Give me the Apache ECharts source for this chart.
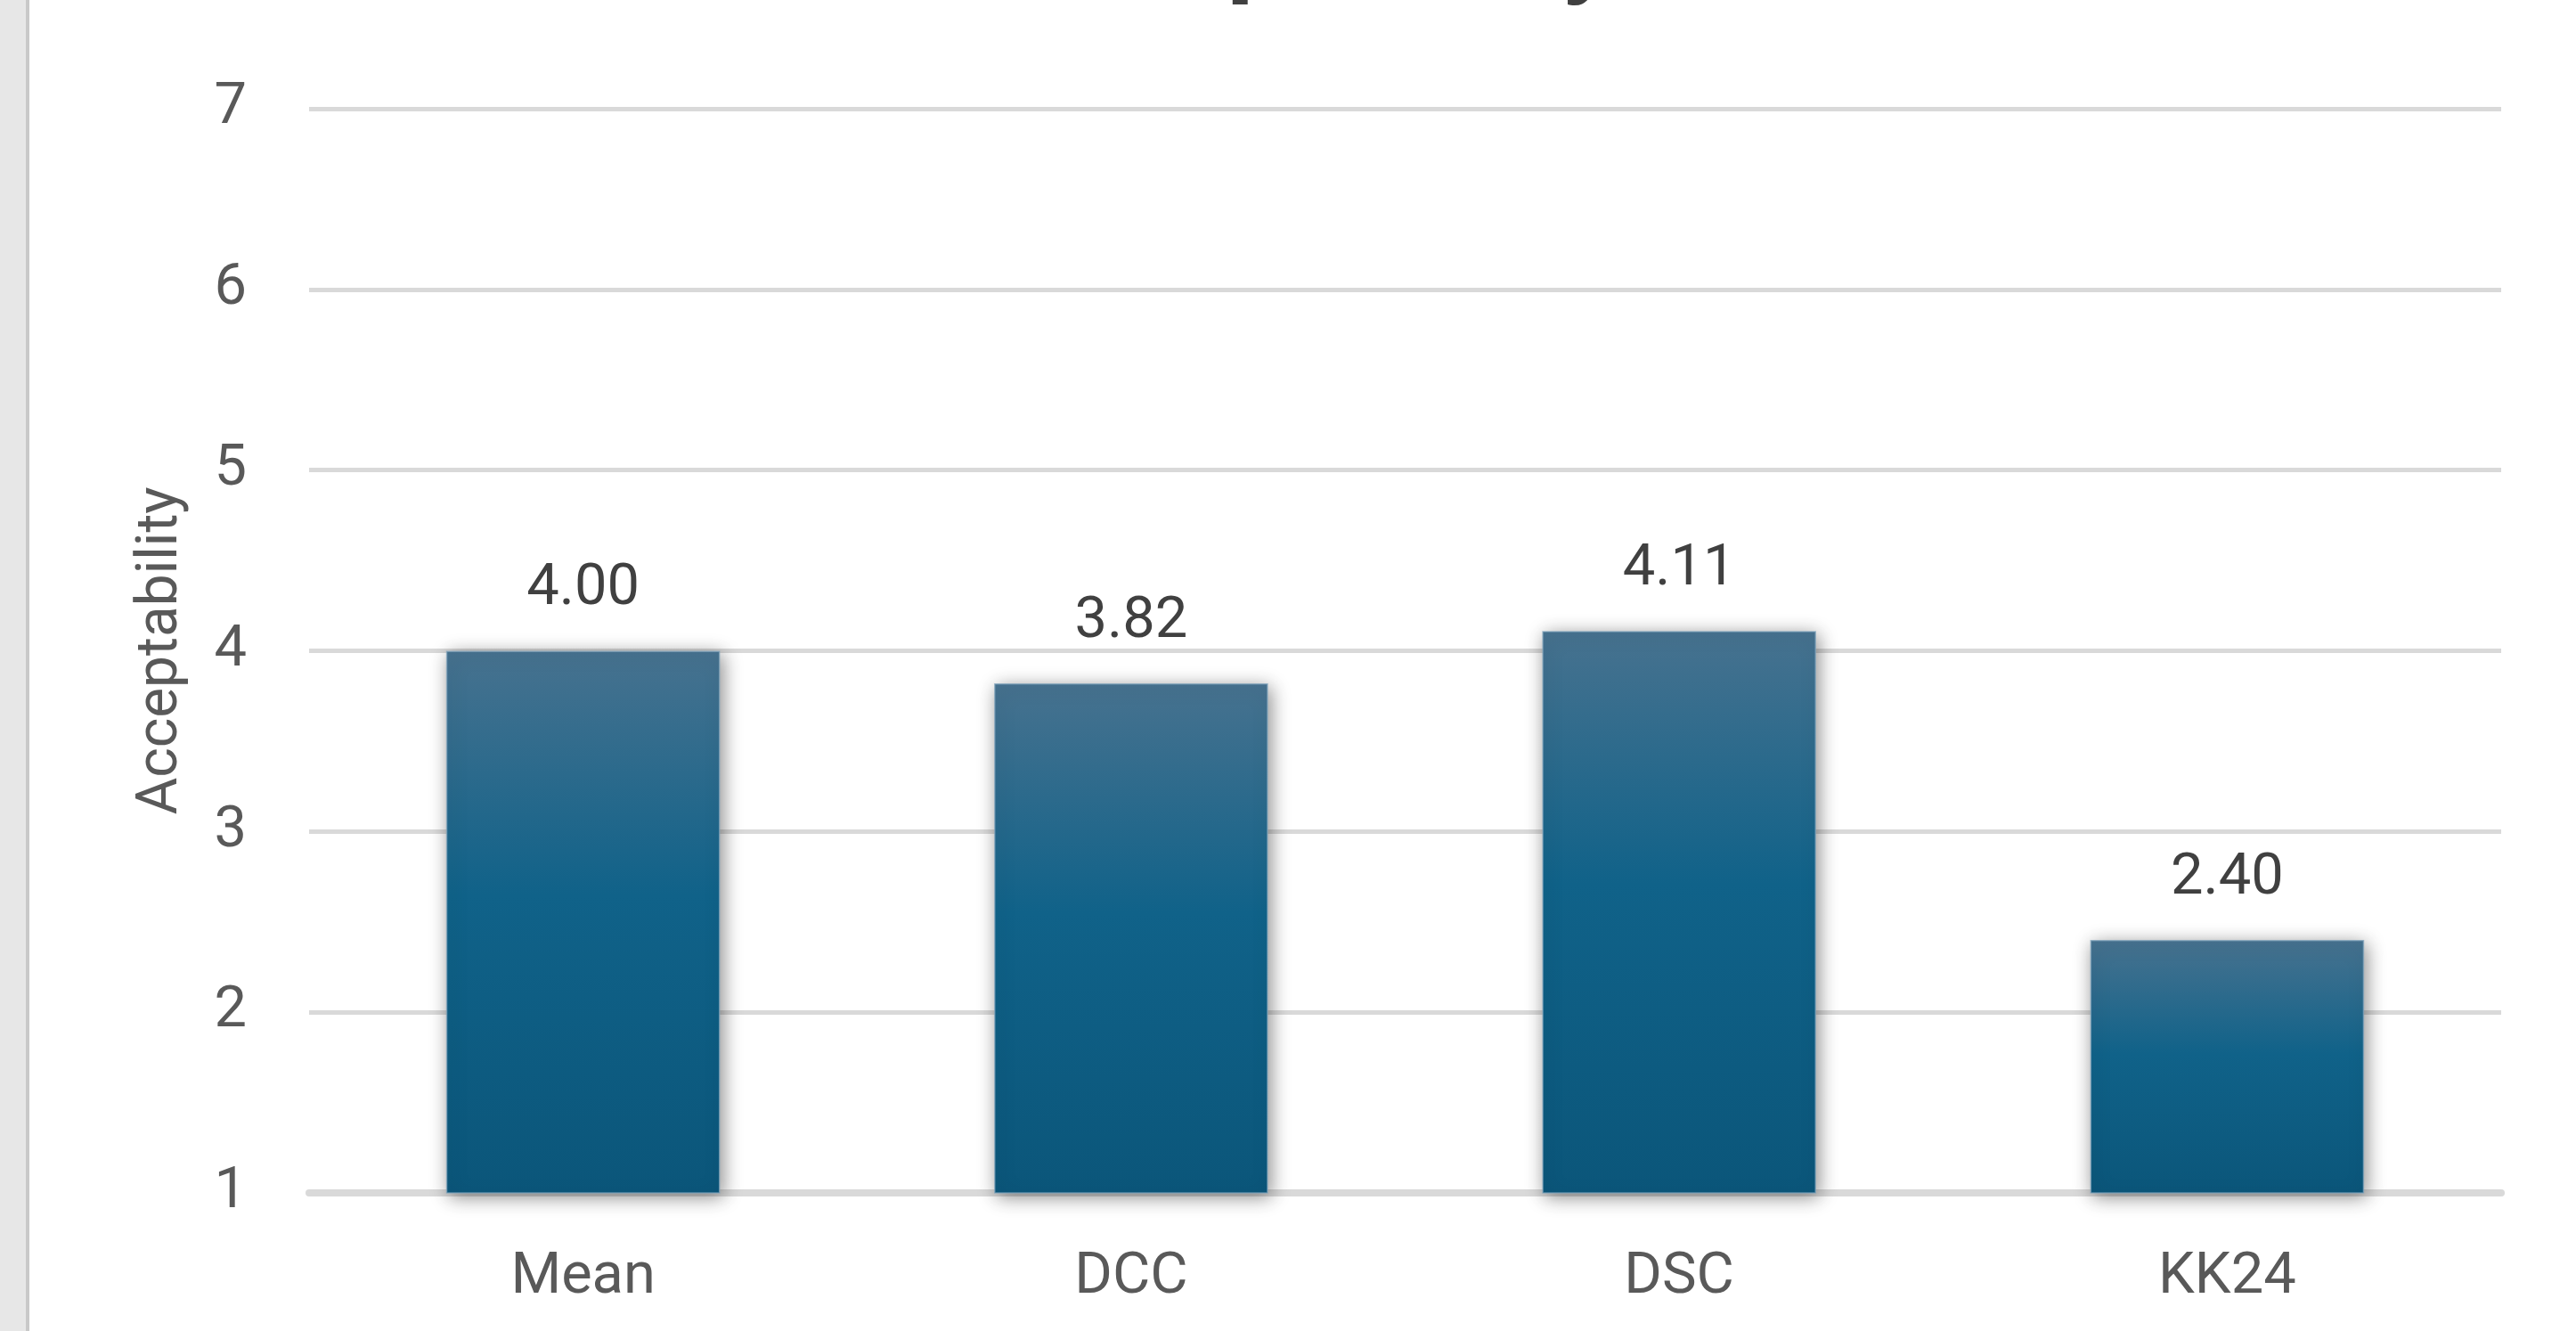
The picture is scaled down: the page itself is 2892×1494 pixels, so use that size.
<!DOCTYPE html>
<html>
<head>
<meta charset="utf-8">
<script src="https://cdn.jsdelivr.net/npm/echarts@6/dist/echarts.min.js"></script>
<style>
html,body{margin:0;padding:0;background:#fff;}
#c{width:2892px;height:1494px;}
</style>
</head>
<body>
<div id="c"></div>
<script>
const categories = ['Mean', 'DCC', 'DSC', 'KK24'];
const values = [4.00, 3.82, 4.11, 2.40];
const yTicks = { min: 1, max: 7, interval: 1 };
const titleText = 'Acceptability';
const yAxisName = 'Acceptability';

const chart = echarts.init(document.getElementById('c'));
const barGradient = new echarts.graphic.LinearGradient(0, 0, 0, 1, [
  { offset: 0, color: '#47728f' },
  { offset: 0.45, color: '#106289' },
  { offset: 1, color: '#0b567a' }
]);
chart.setOption({
  backgroundColor: '#ffffff',
  animation: false,
  graphic: [
    { type: 'rect', left: 0, top: 0, shape: { width: 29, height: 1494 }, style: { fill: '#e7e7e7' }, z: 10 },
    { type: 'rect', left: 29, top: 0, shape: { width: 4, height: 1494 }, style: { fill: '#c9c9c9' }, z: 10 },
    { type: 'text', x: 1460, y: -50, style: { text: titleText, fontFamily: 'Roboto', fontWeight: 'bold', fontSize: 120, fill: '#404040', align: 'center', verticalAlign: 'middle' }, z: 10 }
  ],
  grid: { left: 347, right: 84, top: 122, bottom: 155 },
  xAxis: {
    type: 'category',
    data: categories,
    axisTick: { show: false },
    axisLine: { show: true, lineStyle: { color: '#d9d9d9', width: 8 } },
    axisLabel: { color: '#595959', fontFamily: 'Roboto', fontSize: 65, margin: 63 }
  },
  yAxis: {
    type: 'value',
    min: yTicks.min,
    max: yTicks.max,
    interval: yTicks.interval,
    name: yAxisName,
    nameLocation: 'middle',
    nameGap: 133,
    nameTextStyle: { color: '#595959', fontFamily: 'Roboto', fontSize: 64 },
    axisLine: { show: false },
    axisTick: { show: false },
    axisLabel: { color: '#595959', fontFamily: 'Roboto', fontSize: 65, margin: 70 },
    splitLine: { lineStyle: { color: '#d9d9d9', width: 5 } }
  },
  series: [{
    type: 'bar',
    data: values,
    barWidth: '50%',
    itemStyle: {
      color: barGradient,
      borderColor: 'rgba(130,165,190,0.7)',
      borderWidth: 1.5,
      shadowBlur: 20,
      shadowColor: 'rgba(0,0,0,0.45)',
      shadowOffsetX: 3,
      shadowOffsetY: 4
    },
    label: {
      show: true,
      position: 'top',
      distance: 36,
      color: '#404040',
      fontFamily: 'Roboto',
      fontSize: 65,
      formatter: p => p.value.toFixed(2)
    }
  }]
});
</script>
</body>
</html>
